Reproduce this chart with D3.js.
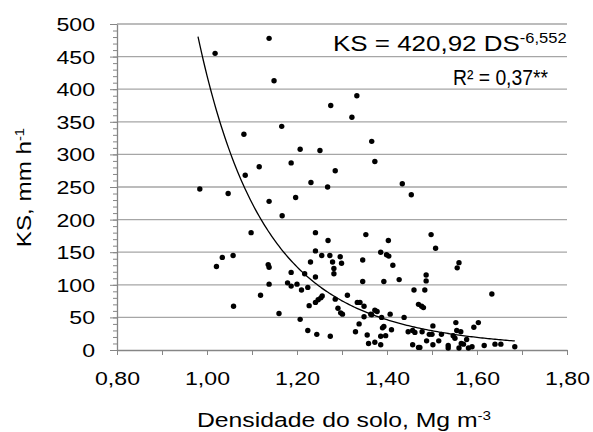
<!DOCTYPE html>
<html><head><meta charset="utf-8">
<script src="https://cdn.jsdelivr.net/npm/d3@7/dist/d3.min.js"></script>
<style>
html,body{margin:0;padding:0;background:#fff;}
svg{display:block;font-family:"Liberation Sans",Arial,sans-serif;}
</style></head>
<body><svg id="c" width="593" height="432"></svg>
<script>
// ---- data ----
const densidade = [0.984,1.018,1.021,1.034,1.047,1.058,1.059,1.082,1.085,1.098,1.116,1.119,1.136,1.138,1.138,1.138,1.138,1.149,1.160,1.166,1.167,1.179,1.187,1.187,1.187,1.197,1.200,1.207,1.207,1.210,1.217,1.224,1.224,1.227,1.230,1.231,1.241,1.241,1.241,1.241,1.244,1.247,1.251,1.253,1.255,1.256,1.268,1.269,1.273,1.274,1.275,1.279,1.282,1.282,1.285,1.285,1.291,1.296,1.297,1.299,1.301,1.312,1.322,1.330,1.333,1.334,1.338,1.340,1.346,1.346,1.349,1.353,1.356,1.359,1.366,1.366,1.373,1.373,1.373,1.378,1.386,1.386,1.386,1.388,1.390,1.393,1.393,1.397,1.399,1.403,1.404,1.407,1.410,1.413,1.427,1.434,1.438,1.447,1.454,1.457,1.457,1.460,1.462,1.470,1.470,1.473,1.477,1.478,1.481,1.484,1.487,1.487,1.488,1.494,1.498,1.500,1.502,1.502,1.508,1.515,1.521,1.536,1.536,1.547,1.551,1.553,1.555,1.556,1.560,1.560,1.564,1.565,1.570,1.577,1.581,1.589,1.593,1.603,1.616,1.633,1.640,1.653,1.684,1.349,1.364];
const ks = [247,455,128,142,240,145,67,331,268,180,281,84,131,127,478,228,101,413,56,343,206,103,287,119,98,234,101,308,47,92,117,96,30,68,135,257,180,152,112,73,24,77,306,80,145,83,250,168,145,21,375,135,125,117,275,78,64,143,57,133,55,84,357,28,390,73,40,73,138,105,51,177,23,10,54,320,289,61,12,59,150,21,8,50,34,105,36,22,146,168,144,55,31,130,108,255,50,28,238,30,8,92,27,70,4,4,67,28,65,92,115,106,14,24,177,24,37,8,156,14,24,7,3,22,18,42,30,126,134,3,28,10,9,16,3,5,35,42,7,86,9,9,5,67,55];
const xTicks = [0.8,0.9,1.0,1.1,1.2,1.3,1.4,1.5,1.6,1.7,1.8];
const xLabelTicks = [0.8,1.0,1.2,1.4,1.6,1.8];
const yTicks = [0,50,100,150,200,250,300,350,400,450,500];
const yMinorTicks = d3.range(0,501,10);
const coefA = 420.92, coefB = -6.552;
const fitRange = [0.98,1.684];
const xTitle = "Densidade do solo, Mg m", xTitleSup = "-3";
const yTitle = "KS, mm h", yTitleSup = "-1";
const eqMain = "KS = 420,92 DS", eqSup = "-6,552";
const r2Text = "R² = 0,37**";

// ---- chart ----
const svg = d3.select("#c");
const x = d3.scaleLinear().domain([0.8,1.8]).range([117,567]);
const y = d3.scaleLinear().domain([0,500]).range([350,24]);
const SX = 1.25, FS = 18.5;
const axisCol = "#868686", gridCol = "#a6a6a6";

// gridlines
svg.append("g").selectAll("line").data(yTicks.filter(d=>d>0)).join("line")
  .attr("x1",x(0.8)).attr("x2",x(1.8)).attr("y1",d=>y(d)).attr("y2",d=>y(d))
  .attr("stroke",gridCol).attr("stroke-width",1.3);

// y minor ticks
const gyMinor = svg.append("g").attr("transform",`translate(${x(0.8)},0)`)
  .call(d3.axisLeft(y).tickValues(yMinorTicks).tickSize(4).tickFormat(""));
gyMinor.select(".domain").remove();
gyMinor.selectAll("line").attr("stroke",axisCol);

// y major axis
const gy = svg.append("g").attr("transform",`translate(${x(0.8)},0)`)
  .call(d3.axisLeft(y).tickValues(yTicks).tickSize(7).tickSizeOuter(0).tickFormat(d3.format("d")));
gy.select(".domain").attr("stroke",axisCol).attr("stroke-width",1.3);
gy.selectAll(".tick line").attr("stroke",axisCol);
gy.selectAll(".tick text").attr("x",-22/SX).attr("dy","0.35em")
  .attr("transform",`scale(${SX},1)`).attr("font-size",FS).attr("font-family","Liberation Sans, Arial, sans-serif").attr("fill","#000");

// x axis
const gx = svg.append("g").attr("transform",`translate(0,${y(0)})`)
  .call(d3.axisBottom(x).tickValues(xTicks).tickSize(5).tickSizeOuter(0)
    .tickFormat(d => xLabelTicks.some(v=>Math.abs(v-d)<1e-6) ? d3.format(".2f")(d).replace(".",",") : ""));
gx.select(".domain").attr("stroke",axisCol).attr("stroke-width",1.3);
gx.selectAll(".tick line").attr("stroke",axisCol);
gx.selectAll(".tick text").attr("y",35.5).attr("dy",0)
  .attr("transform",`scale(${SX},1)`).attr("font-size",FS).attr("font-family","Liberation Sans, Arial, sans-serif").attr("fill","#000");

// fit curve
const fitX = d3.range(fitRange[0], fitRange[1]+0.0001, 0.004);
svg.append("path").datum(fitX)
  .attr("d", d3.line().x(d=>x(d)).y(d=>y(coefA*Math.pow(d,coefB))))
  .attr("fill","none").attr("stroke","#000").attr("stroke-width",1.3);

// points
svg.append("g").selectAll("circle").data(densidade.map((d,i)=>[d,ks[i]])).join("circle")
  .attr("cx",d=>x(d[0])).attr("cy",d=>y(d[1])).attr("r",2.7).attr("fill","#000");

// stretched text helper
function stext(px,py,rot,sx,anchor,size,main,sup,supSize,supDy){
  const g = svg.append("g").attr("transform",`translate(${px},${py}) rotate(${rot}) scale(${sx},1)`);
  const t = g.append("text").attr("text-anchor",anchor).attr("font-size",size).attr("fill","#000");
  t.append("tspan").text(main);
  if(sup) t.append("tspan").attr("font-size",supSize).attr("dy",supDy).text(sup);
  return t;
}
stext(344,427,0,1.27,"middle",19.5,xTitle,xTitleSup,12,-7);
stext(31,187.5,-90,1.24,"middle",19.5,yTitle,yTitleSup,12,-7);

// equation
stext(333,50.5,0,1.18,"start",22,eqMain,eqSup,14,-7.5);
const r2 = svg.append("text").attr("x",453).attr("y",85).attr("font-size",21.5).attr("fill","#000")
  .attr("textLength",95).attr("lengthAdjust","spacingAndGlyphs").text(r2Text);
</script></body></html>
